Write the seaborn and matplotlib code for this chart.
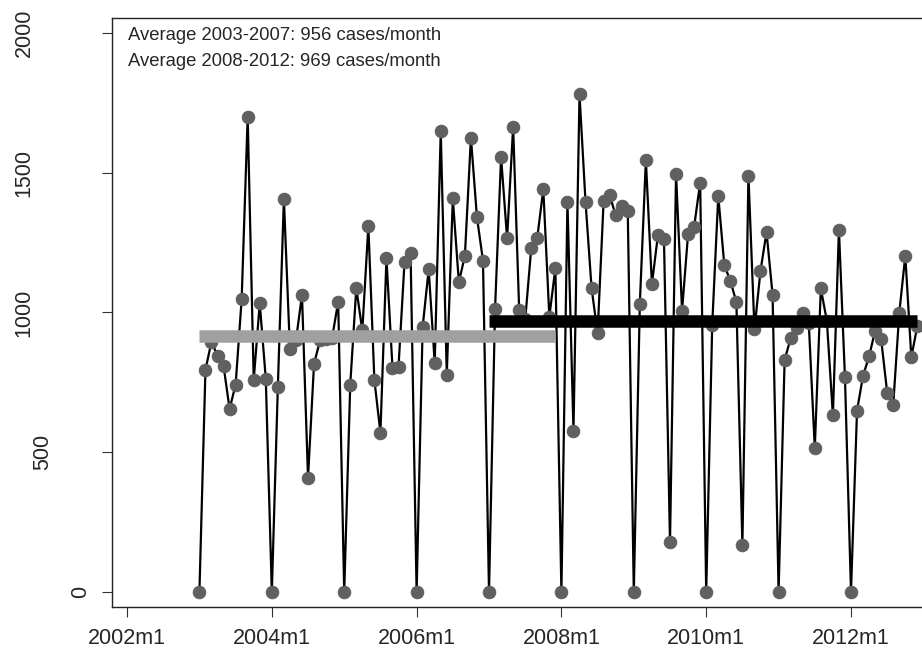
import pandas as pd
import matplotlib
matplotlib.use('Agg')
import matplotlib.pyplot as plt
import matplotlib.transforms as mtransforms
import seaborn as sns

# Помесячное число случаев, 2003m1 .. 2012m12
cases_2003 = [0, 795, 896, 845, 809, 655, 742, 1047, 1701, 759, 1033, 763]
cases_2004 = [0, 734, 1406, 869, 900, 1063, 409, 817, 900, 905, 910, 1039]
cases_2005 = [0, 742, 1087, 936, 1309, 758, 570, 1194, 803, 805, 1182, 1212]
cases_2006 = [0, 948, 1154, 820, 1648, 778, 1408, 1109, 1202, 1626, 1341, 1186]
cases_2007 = [0, 1012, 1557, 1265, 1665, 1008, 975, 1230, 1268, 1441, 985, 1159]
cases_2008 = [0, 1396, 577, 1780, 1396, 1087, 926, 1400, 1419, 1348, 1380, 1362]
cases_2009 = [0, 1032, 1545, 1101, 1277, 1262, 178, 1496, 1007, 1282, 1307, 1465]
cases_2010 = [0, 957, 1417, 1170, 1113, 1038, 168, 1490, 940, 1149, 1288, 1064]
cases_2011 = [0, 831, 907, 943, 998, 964, 514, 1086, 970, 632, 1296, 768]
cases_2012 = [0, 649, 774, 843, 935, 904, 713, 669, 998, 1203, 840, 952]

# Средние уровни (как нарисованы) и их периоды: 2003m1-2007m12, 2007m1-2012m12
avg_levels = [915, 969]
avg_start = ['2003-01', '2007-01']
avg_end = ['2007-12', '2012-12']
avg_colors = ['#a0a0a0', 'black']
avg_text = ['Average 2003-2007: 956 cases/month',
            'Average 2008-2012: 969 cases/month']

tick_years = [2002, 2004, 2006, 2008, 2010, 2012]
y_ticks = [0, 500, 1000, 1500, 2000]

base = pd.Period('2002-01', freq='M')


def month_index(s):
    return (pd.Period(s, freq='M') - base).n


cases = (cases_2003 + cases_2004 + cases_2005 + cases_2006 + cases_2007
         + cases_2008 + cases_2009 + cases_2010 + cases_2011 + cases_2012)
months = pd.period_range('2003-01', '2012-12', freq='M')
data = pd.DataFrame({'month': [(m - base).n for m in months], 'cases': cases})

sns.set_style('white')
plt.rcParams['font.family'] = ['Liberation Sans', 'DejaVu Sans']

fig = plt.figure(figsize=(9.22, 6.49), dpi=100)
ax = fig.add_axes([112 / 922, 42 / 649, 810 / 922, 589 / 649])

# Ряд с маркерами
sns.lineplot(data=data, x='month', y='cases', ax=ax, color='black',
             linewidth=1.6, marker='o', markersize=9,
             markerfacecolor='#606060', markeredgecolor='#606060', zorder=2)

# Полосы средних
for lvl, s, e, c in zip(avg_levels, avg_start, avg_end, avg_colors):
    sns.lineplot(x=[month_index(s), month_index(e)], y=[lvl, lvl], ax=ax,
                 color=c, linewidth=9, solid_capstyle='butt', zorder=3)

ax.set_xlim(-2.49, 131.77)
ax.set_ylim(-53.7, 2053.7)

ax.set_xticks([(y - 2002) * 12 for y in tick_years])
ax.set_xticklabels([f'{y}m1' for y in tick_years], fontsize=15.5)
ax.set_yticks(y_ticks)
ax.set_yticklabels([])
ax.tick_params(axis='both', direction='out', length=7, width=0.8,
               color='#333333', left=True, bottom=True)
ax.tick_params(axis='x', pad=8)

# Подписи оси Y (повёрнутые, сдвиг зависит от длины подписи)
blend = mtransforms.blended_transform_factory(ax.transAxes, ax.transData)
for v in y_ticks:
    lab = str(v)
    dx = (100 - 19 * len(lab)) - 112
    tr = mtransforms.offset_copy(blend, fig=fig, x=dx, y=0, units='dots')
    ax.text(0, v, lab, transform=tr, rotation=90, ha='center', va='center',
            fontsize=15.5)

for i, t in enumerate(avg_text):
    ax.text(16 / 810, (571 - 26 * i) / 589, t, transform=ax.transAxes,
            ha='left', va='center', fontsize=13.3)

ax.set_xlabel('')
ax.set_ylabel('')
for side in ['left', 'bottom', 'top']:
    ax.spines[side].set_color('#222222')
    ax.spines[side].set_linewidth(1.0)
ax.spines['right'].set_visible(False)

fig.savefig('out.png', dpi=100)
